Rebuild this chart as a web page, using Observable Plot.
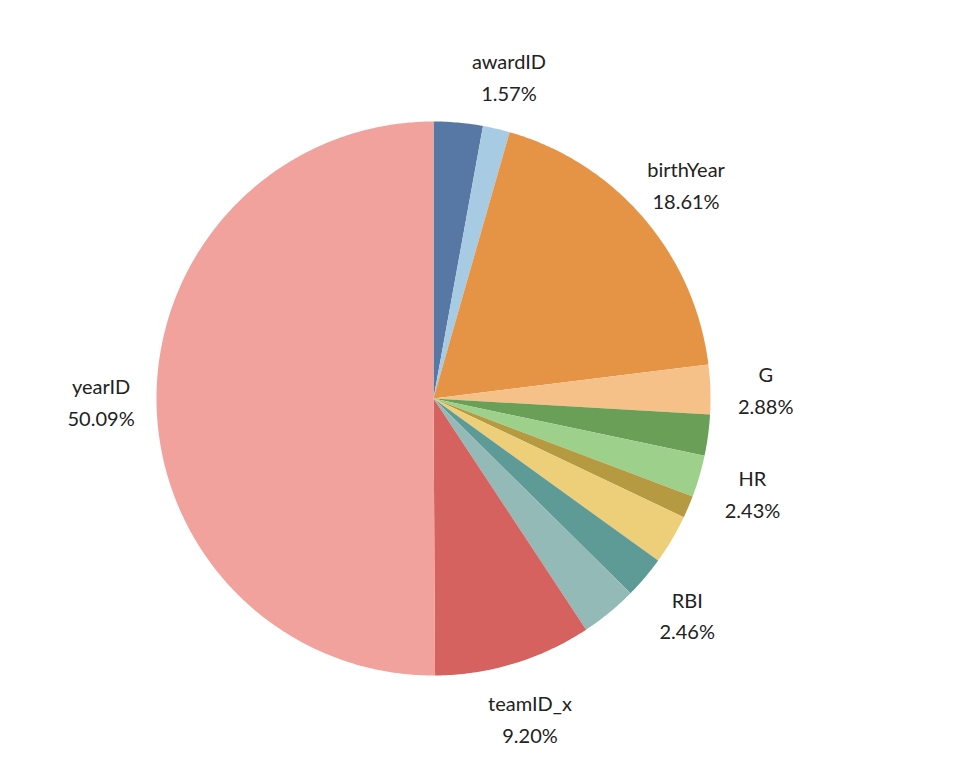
<!DOCTYPE html>
<html>
<head>
<meta charset="utf-8">
<script src="https://cdn.jsdelivr.net/npm/d3@7"></script>
<script src="https://cdn.jsdelivr.net/npm/@observablehq/plot@0.6"></script>
<style>
  body { margin: 0; background: white; }
</style>
</head>
<body>
<div id="chart"></div>
<script>
// slices clockwise from 12 o'clock
const names = ["AB", "awardID", "birthYear", "G", "H", "HR", "lgID", "R", "RBI", "SB", "teamID_x", "yearID"];
const shares = [2.86, 1.57, 18.61, 2.88, 2.40, 2.43, 1.30, 2.90, 2.46, 3.30, 9.20, 50.09];
const colors = ["#5778a4", "#a8cbe4", "#e59445", "#f5c189", "#6a9f58", "#9dd08b",
                "#b59a41", "#edcf79", "#5e9a96", "#93bab6", "#d5625f", "#f2a29d"];
const labelled = ["awardID", "birthYear", "G", "HR", "RBI", "teamID_x", "yearID"];

// build slice polygons in unit-circle space
const total = d3.sum(shares);
let cum = 0;
const polys = [];
const labels = [];
names.forEach((name, i) => {
  const a0 = cum / total * 2 * Math.PI;
  cum += shares[i];
  const a1 = cum / total * 2 * Math.PI;
  polys.push({name, x: 0, y: 0});
  const n = Math.max(2, Math.ceil((a1 - a0) / 0.01));
  for (let k = 0; k <= n; k++) {
    const a = a0 + (a1 - a0) * k / n;
    polys.push({name, x: Math.sin(a), y: Math.cos(a)});
  }
  polys.push({name, x: 0, y: 0});
  if (labelled.includes(name)) {
    const m = (a0 + a1) / 2;
    labels.push({name, text: name + "\n" + shares[i].toFixed(2) + "%",
                 x: 1.2 * Math.sin(m), y: 1.2 * Math.cos(m)});
  }
});

const chart = Plot.plot({
  width: 974,
  height: 780,
  marginLeft: 156,
  marginRight: 264,
  marginTop: 121,
  marginBottom: 105,
  x: {domain: [-1, 1], axis: null},
  y: {domain: [-1, 1], axis: null},
  color: {domain: names, range: colors},
  style: {fontFamily: "Lato, 'Noto Sans', sans-serif", background: "white", overflow: "visible"},
  marks: [
    Plot.line(polys, {x: "x", y: "y", z: "name", fill: "name", stroke: null, curve: "linear"}),
    Plot.text(labels, {x: "x", y: "y", text: "text", fontSize: 20, lineHeight: 1.6,
                       fill: "#222", textAnchor: "middle"})
  ]
});

d3.select("#chart").append(() => chart);
</script>
</body>
</html>
